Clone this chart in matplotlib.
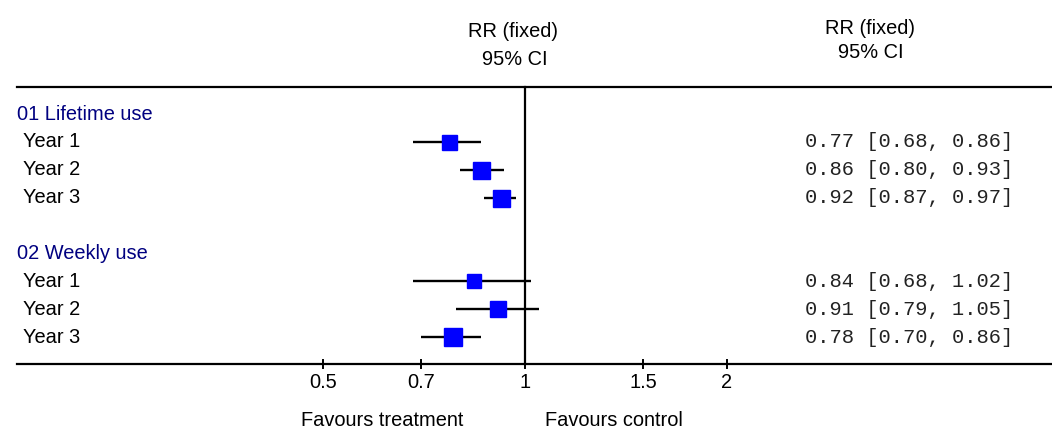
import numpy as np
import matplotlib
matplotlib.use("Agg")
from matplotlib import pyplot as plt
from matplotlib import transforms

# ---- data ----
groups = ["01 Lifetime use", "02 Weekly use"]
studies = ["Year 1", "Year 2", "Year 3"]
rr = [0.77, 0.86, 0.92, 0.84, 0.91, 0.78]
ci_low = [0.68, 0.80, 0.87, 0.68, 0.79, 0.70]
ci_high = [0.86, 0.93, 0.97, 1.02, 1.05, 0.86]
weights = [15, 17, 17, 14, 16, 18]
tick_values = [0.5, 0.7, 1, 1.5, 2]
tick_labels = ["0.5", "0.7", "1", "1.5", "2"]

plt.rcParams["font.family"] = ["Liberation Sans", "DejaVu Sans"]
FS = 14.4

fig = plt.figure(figsize=(10.52, 4.3), dpi=100)
ax = fig.add_axes([0, 0, 1, 1])
ax.set_xscale("log")
ax.set_xlim(0.1650, 6.101)
ax.set_ylim(11.326, -4.086)
ax.axis("off")

lab = transforms.blended_transform_factory(ax.transAxes, ax.transData)

# row layout: group header, 3 studies, blank line, ...
row = 0
k = 0
for g in groups:
    ax.text(0.0162, row, g, transform=lab, color="#000080", fontsize=FS,
            ha="left", va="center")
    row += 1
    for s in studies:
        ax.text(0.0219, row, s, transform=lab, color="black", fontsize=FS,
                ha="left", va="center")
        ax.plot([ci_low[k], ci_high[k]], [row, row], color="black", lw=1.7,
                solid_capstyle="butt", zorder=2)
        ax.plot(rr[k], row, marker="s", color="#0000ff", mec="#0000ff",
                markersize=weights[k] * 0.72, zorder=3)
        txt = f"{rr[k]:.2f} [{ci_low[k]:.2f}, {ci_high[k]:.2f}]"
        ax.text(0.765, row, txt, transform=lab, family="Liberation Mono",
                fontsize=14.7, color="#222222", ha="left", va="center")
        row += 1
        k += 1
    row += 1

top_y = -0.968
bot_y = 8.96
ax.axhline(top_y, xmin=17 / 1052, xmax=1, color="black", lw=1.6)
ax.axhline(bot_y, xmin=17 / 1052, xmax=1, color="black", lw=1.6)
ax.plot([1, 1], [top_y, bot_y], color="black", lw=1.6, zorder=1)

for t, tl in zip(tick_values, tick_labels):
    ax.plot([t, t], [bot_y - 0.14, bot_y + 0.14], color="black", lw=1.4)
    ax.text(t, 9.64, tl, fontsize=FS, ha="center", va="center")

ax.text(0.808, 10.98, "Favours treatment", fontsize=FS, ha="right", va="center")
ax.text(1.071, 10.98, "Favours control", fontsize=FS, ha="left", va="center")

# column headers
ax.text(0.96, -2.94, "RR (fixed)", fontsize=FS, ha="center", va="center")
ax.text(0.965, -1.94, "95% CI", fontsize=FS, ha="center", va="center")
ax.text(870 / 1052, -3.08, "RR (fixed)", transform=lab, fontsize=FS,
        ha="center", va="center")
ax.text(871 / 1052, -2.19, "95% CI", transform=lab, fontsize=FS,
        ha="center", va="center")

fig.savefig("out.png", dpi=100)
